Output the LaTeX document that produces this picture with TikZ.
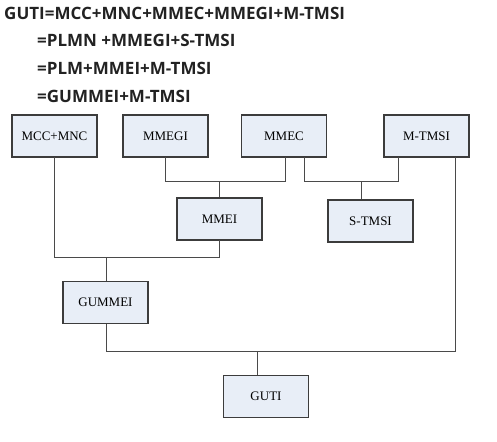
\documentclass[tikz,border=0pt]{standalone}
\usepackage{fontspec}
\setmainfont{Liberation Serif}
\newfontfamily\formfont{Open Sans}
\definecolor{boxfill}{HTML}{E8EEF7}
\definecolor{boxline}{HTML}{3C3C3C}
\definecolor{wire}{HTML}{4A4A4A}
\definecolor{formcol}{HTML}{222222}
\begin{document}
\begin{tikzpicture}[x=1pt,y=-1pt,
  fbox/.style={draw=boxline,line width=1.3pt,fill=boxfill,minimum width=85pt,minimum height=42pt,inner sep=0pt,font=\fontsize{13}{15}\selectfont},
  wirel/.style={draw=wire,line width=1pt},
  formula/.style={anchor=west,inner sep=0pt,text=formcol,font=\formfont\bfseries\fontsize{17}{20}\selectfont}]
\useasboundingbox (0,0) rectangle (497,441);
\node[formula] (f1) at (4,13) {GUTI=MCC+MNC+MMEC+MMEGI+M-TMSI};
\node[formula] (f2) at (37,40) {=PLMN +MMEGI+S-TMSI};
\node[formula] (f3) at (37,68) {=PLM+MMEI+M-TMSI};
\node[formula] (f4) at (37,96) {=GUMMEI+M-TMSI};

\node[fbox] (mcc) at (54.5,136) {MCC+MNC};
\node[fbox] (mmegi) at (165.5,136) {MMEGI};
\node[fbox] (mmec) at (284,136) {MMEC};
\node[fbox] (mtmsi) at (426.5,136) {M-TMSI};
\node[fbox] (mmei) at (219.5,219) {MMEI};
\node[fbox] (stmsi) at (370.5,221) {S-TMSI};
\node[fbox] (gummei) at (105.5,302.5) {GUMMEI};
\node[fbox] (guti) at (266,396.5) {GUTI};

\coordinate (j1) at (219.5,181);
\coordinate (j2) at (361,181);
\coordinate (j3) at (106,257);
\coordinate (j4) at (257,351);

\draw[wirel] (165.5,157) -- (165.5,181) -- (285,181) -- (285,157);
\draw[wirel] (j1) -- (j1 |- mmei.north);
\draw[wirel] (304,157) -- (304,181) -- (398,181) -- (398,157);
\draw[wirel] (j2) -- (j2 |- stmsi.north);
\draw[wirel] (54.5,157) -- (54.5,257) -- (219.5,257) -- (219.5,240);
\draw[wirel] (j3) -- (j3 |- gummei.north);
\draw[wirel] (106,323.5) -- (106,351) -- (455,351) -- (455,157);
\draw[wirel] (j4) -- (j4 |- guti.north);
\end{tikzpicture}
\end{document}
